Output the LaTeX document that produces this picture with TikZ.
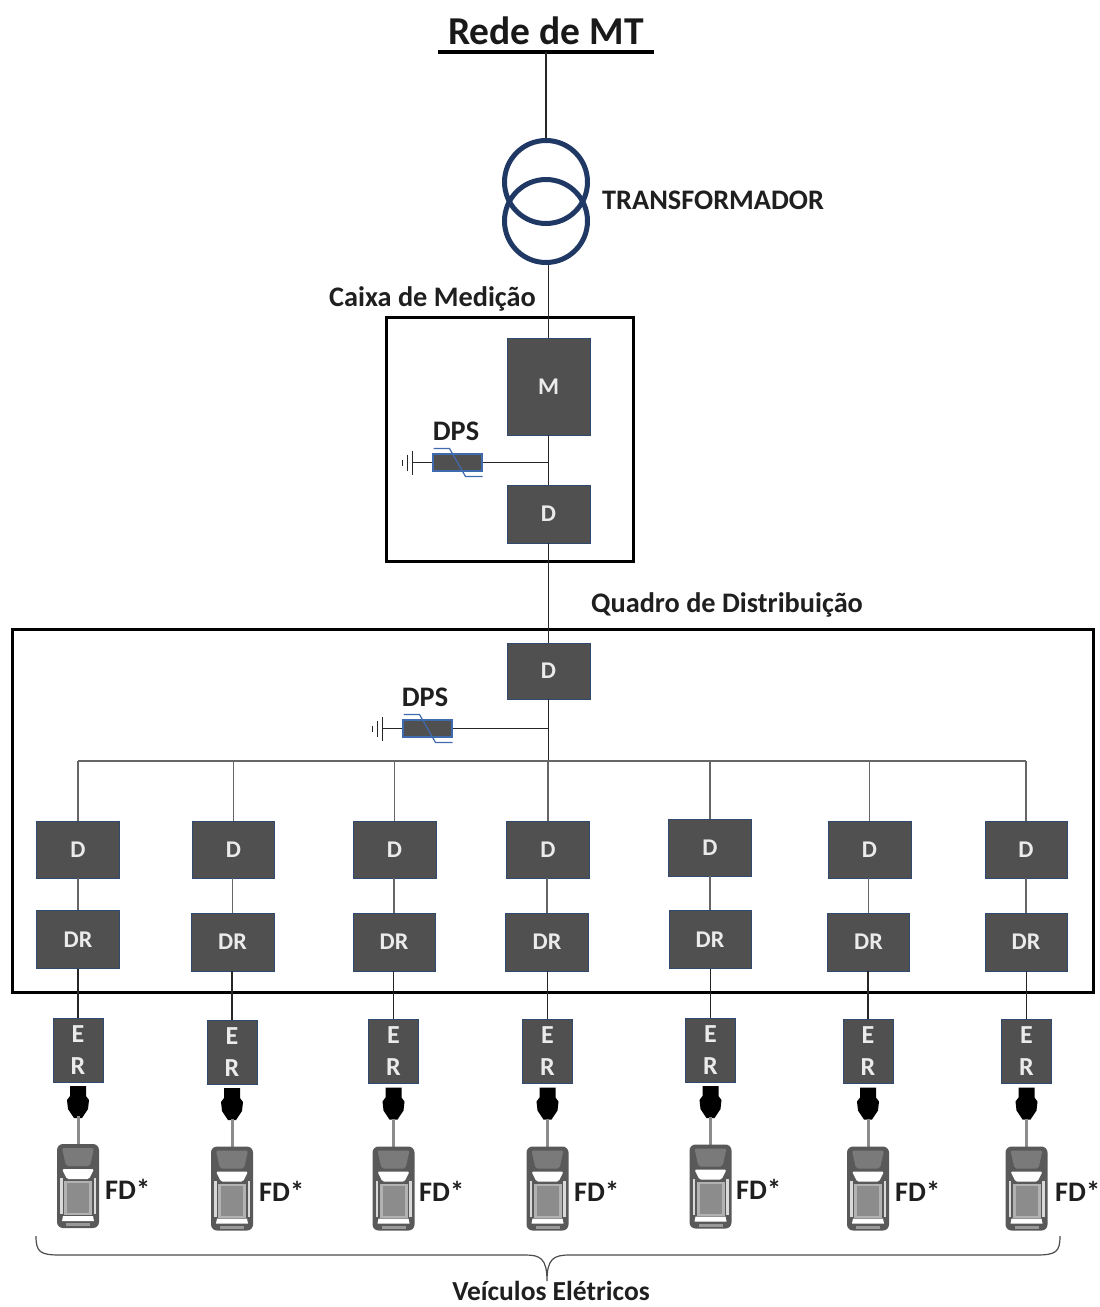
\documentclass[tikz,border=0pt]{standalone}
\usepackage{fontspec}
\setmainfont{Carlito}
\usetikzlibrary{calc}
\definecolor{boxg}{HTML}{505050}
\definecolor{edgeb}{HTML}{2F4A70}
\definecolor{xfmr}{HTML}{1F3864}
\definecolor{dpsb}{HTML}{3F6AAE}
\tikzset{
 x=1pt,y=-1pt,
 wire/.style={draw=black!85,line width=1.5pt},
 gwire/.style={draw=black!60,line width=1.5pt},
 frame/.style={draw=black,line width=3pt},
 gbox/.style={fill=boxg,draw=edgeb,line width=.7pt,inner sep=0pt,text=white!92!black,font=\bfseries\fontsize{24}{24}\selectfont},
 lbl/.style={inner sep=0pt,text=black!88,font=\bfseries\fontsize{28.3}{28.3}\selectfont},
 dpsbox/.style={fill=boxg,draw=dpsb,line width=1.2pt,minimum width=49pt,minimum height=17pt,inner sep=0pt},
}
\newcommand{\dpssym}[3]{% name, cx, cy
 \node[dpsbox] (#1) at (#2,#3) {};
 \draw[dpsb,line width=1.2pt] (#2-24,#3-14) -- (#2-8,#3-14) -- (#2+8,#3+14) -- (#2+25,#3+14);
 \coordinate (#1g) at (#2-45,#3);
 \draw[wire] (#1.west) -- (#1g);
 \draw[wire] (#2-45,#3-12) -- (#2-45,#3+12);
 \draw[wire] (#2-50,#3-8) -- (#2-50,#3+8);
 \draw[wire] (#2-55,#3-3) -- (#2-55,#3+3);
}
\begin{document}
\begin{tikzpicture}
\useasboundingbox (0,0) rectangle (1100,1307);
% frames
\node[frame,minimum width=247pt,minimum height=244pt,inner sep=0pt] (caixa) at (510,439.5) {};
\node[frame,minimum width=1081pt,minimum height=363pt,inner sep=0pt] (quadro) at (553,811) {};
% top
\draw[black,line width=4.5pt] (438,52) -- (654,52);
\coordinate (bar) at (546,52);
\node[inner sep=0pt,text=black!90,font=\bfseries\fontsize{39.5}{39.5}\selectfont] (rede) at (546,31) {Rede de MT};
\node[circle,draw=xfmr,line width=5pt,minimum size=83pt,inner sep=0pt] (t1) at (546,182) {};
\node[circle,draw=xfmr,line width=5pt,minimum size=83pt,inner sep=0pt] (t2) at (546,221) {};
\draw[wire] (bar) -- (t1.north);
\node[lbl,anchor=west] (tl) at (602,200) {TRANSFORMADOR};
\node[lbl,anchor=west] (cm) at (329,299) {Caixa de Medição};
\node[lbl,anchor=west] (qd) at (591,605) {Quadro de Distribuição};
% main boxes
\node[gbox,minimum width=83pt,minimum height=97pt] (m) at (548.5,386.5) {M};
\node[gbox,minimum width=83pt,minimum height=58pt] (d0) at (548.5,514) {D};
\node[gbox,minimum width=83pt,minimum height=56pt] (d1) at (548.5,671) {D};
\draw[wire] (t2.south -| m.north) -- (m.north);
\draw[wire] (m.south) -- (d0.north);
\draw[wire] (d0.south) -- (d1.north);
% DPS
\dpssym{dpsa}{457.5}{462.5}
\dpssym{dpsb}{427.5}{728.5}
\node[lbl] (dla) at (456,431) {DPS};
\node[lbl] (dlb) at (425,697) {DPS};
\draw[wire] (dpsa.east) -- (dpsa.east -| m.south);
\draw[wire] (dpsb.east) -- (dpsb.east -| d1.south);
% bus
\coordinate (busj) at (549,761);
\draw[wire] (d1.south) -- (d1.south |- busj);
\coordinate (busl) at (78,761);
\coordinate (busr) at (1026,761);
\draw[gwire] (busl) -- (busr);
% columns
\foreach \i/\dx/\dw/\dy/\drx/\drw/\dry/\erx/\ery/\cary/\fdx in {
 1/78/83/849.5/78/83/939.5/78/1050/1186/105,
 2/233.5/82/849.5/232.5/83/942/232/1052/1188.5/259,
 3/394.5/83/849.5/394/82/942/393.5/1051.5/1188.5/419,
 4/548/83/849.5/547/83/942/547.5/1051.5/1188.5/574,
 5/710/83/847.5/710/82/939.5/710.5/1050/1186.5/736,
 6/869.5/83/849.5/868.5/82/942/868/1051.5/1188.5/895,
 7/1026/82/849.5/1026/82/942/1026.5/1051.5/1188.5/1055}{
 \node[gbox,minimum width=\dw pt,minimum height=57pt] (D\i) at (\dx,\dy) {D};
 \node[gbox,minimum width=\drw pt,minimum height=58pt] (R\i) at (\drx,\dry) {DR};
 \node[gbox,minimum width=50pt,minimum height=64pt,align=center,font=\bfseries\fontsize{26}{32}\selectfont] (E\i) at (\erx,\ery) {E\\R};
 \coordinate (b\i) at (\dx,761);
 \draw[gwire] (b\i) -- (D\i.north);
 \draw[gwire] (D\i.south -| R\i.north) -- (R\i.north);
 \draw[wire] (R\i.south -| E\i.north) -- (E\i.north);
 % plug
 \begin{scope}[shift={(\erx,\ery+32)}]
  \fill[black] (-8,4) -- (8,4) -- (8,14) -- (11,18) -- (10,27) -- (4,36) -- (-4,36) -- (-10,27) -- (-11,18) -- (-8,14) -- cycle;
 \end{scope}
 % car
 \begin{scope}[shift={(\erx,\cary)}]
  \draw[black!45,line width=3pt] (0,-70) -- (0,-42);
  \fill[black!65,rounded corners=6pt] (-21,-42) rectangle (21,42);
  \fill[black!52,rounded corners=2pt] (-16,-38) -- (16,-38) -- (12,-20) -- (-12,-20) -- cycle;
  \fill[white,rounded corners=1.5pt] (-16,-17) -- (16,-17) -- (11,-7) -- (-11,-7) -- cycle;
  \fill[black!30] (-14,-5) rectangle (14,29);
  \fill[black!45] (-11,-3) rectangle (11,27);
  \fill[black!15] (-18,-8) rectangle (-15.5,28);
  \fill[black!15] (15.5,-8) rectangle (18,28);
  \fill[white] (-15,30) -- (15,30) -- (16,35) -- (-16,35) -- cycle;
  \fill[black!40] (-12,37) rectangle (12,40);
 \end{scope}
 \node[lbl,anchor=west] (F\i) at (\fdx,\cary+3) {FD*};
}
% brace
\coordinate (br) at (547,1281);
\draw[black!70,line width=1.2pt] (36,1236) .. controls (36,1252) and (40,1255) .. (60,1255) -- (525,1255) .. controls (540,1255) and (547,1258) .. (br) .. controls (547,1258) and (554,1255) .. (570,1255) -- (1036,1255) .. controls (1056,1255) and (1060,1252) .. (1060,1236);
\node[lbl,font=\bfseries\fontsize{27.5}{27.5}\selectfont] (ve) at (551,1291) {Veículos Elétricos};
\end{tikzpicture}
\end{document}
